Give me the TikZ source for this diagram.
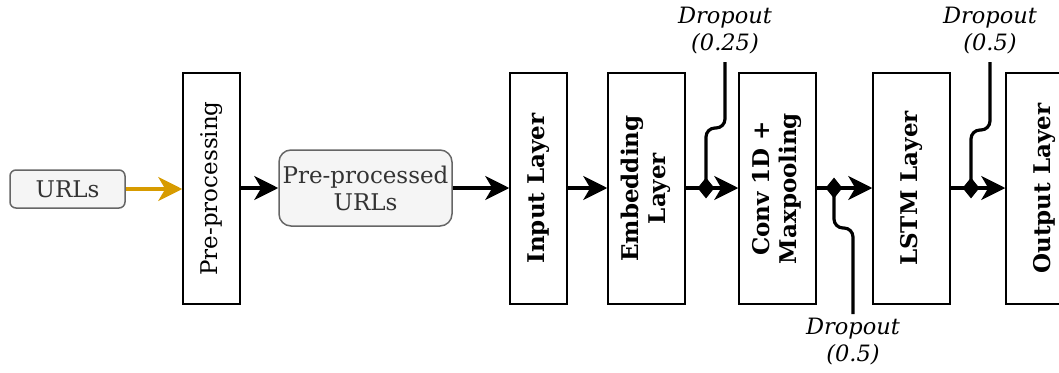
\documentclass[tikz,border=0pt]{standalone}
\usepackage{fontspec}
\setmainfont{DejaVu Serif}
\usetikzlibrary{arrows.meta,shapes.geometric}
\definecolor{boxfill}{HTML}{F5F5F5}
\definecolor{boxline}{HTML}{666666}
\definecolor{boxtext}{HTML}{333333}
\definecolor{flow}{HTML}{D79B00}
\begin{document}
\begin{tikzpicture}[x=1pt,y=-1pt,
  txt/.style={font=\fontsize{23}{27}\selectfont},
  databox/.style={draw=boxline, fill=boxfill, line width=1.5pt, text=boxtext,
    rounded corners=6pt, inner sep=0pt, align=center, txt},
  stage/.style={draw, line width=1.5pt, minimum height=231pt, inner sep=0pt,
    align=center, txt},
  layer/.style={stage, font=\bfseries\fontsize{23}{27}\selectfont},
  conn/.style={line width=3.2pt, -{Stealth[length=24pt,width=24pt,inset=7pt]}},
  drop/.style={line width=3.2pt, rounded corners=9pt},
  jn/.style={diamond, fill, inner sep=0pt, minimum width=17pt, minimum height=21pt},
  droptxt/.style={font=\itshape\fontsize{22.5}{27}\selectfont, align=center}]
\useasboundingbox (0,0) rectangle (1059,372);

% data items
\node[databox, minimum width=115pt, minimum height=38pt] (urls) at (67.5,189) {URLs};
\node[databox, minimum width=173pt, minimum height=76pt, rounded corners=12pt]
  (clean) at (365.5,188) {Pre-processed\\URLs};

% processing stages
\node[stage, minimum width=57pt] (prep) at (211.5,188.5) {\rotatebox{90}{Pre-processing}};
\node[layer, minimum width=57pt] (inp) at (538.5,188.5) {\rotatebox{90}{Input Layer}};
\node[layer, minimum width=77pt] (emb) at (646.5,188.5)
  {\rotatebox{90}{\begin{tabular}{@{}c@{}}Embedding\\Layer\end{tabular}}};
\node[layer, minimum width=77pt] (conv) at (777.5,188.5)
  {\rotatebox{90}{\begin{tabular}{@{}c@{}}Conv 1D +\\Maxpooling\end{tabular}}};
\node[layer, minimum width=77pt] (lstm) at (911.5,188.5) {\rotatebox{90}{LSTM Layer}};
\node[layer, minimum width=77pt] (out) at (1044.5,188.5) {\rotatebox{90}{Output Layer}};

% dropout junctions
\node[jn] (j1) at (706,188) {};
\node[jn] (j2) at (834,188) {};
\node[jn] (j3) at (971,188) {};

% dropout labels
\node[droptxt] (d1) at (725,31) {Dropout\\(0.25)};
\node[droptxt] (d2) at (853,342) {Dropout\\(0.5)};
\node[droptxt] (d3) at (990,31) {Dropout\\(0.5)};

% main flow
\draw[conn, color=flow] (urls.east) -- (prep.west |- urls.east);
\draw[conn] (prep.east |- clean.west) -- (clean.west);
\draw[conn] (clean.east) -- (inp.west |- clean.east);
\draw[conn] (inp.east |- j1) -- (emb.west |- j1);
\draw[conn] (emb.east |- j1) -- (conv.west |- j1);
\draw[conn] (conv.east |- j2) -- (lstm.west |- j2);
\draw[conn] (lstm.east |- j3) -- (out.west |- j3);

% dropout branches
\draw[drop] (725,62) |- (706,128) -- (j1.center);
\draw[drop] (j2.center) |- (853,228) -- (853,314);
\draw[drop] (990,62) |- (971,130) -- (j3.center);
\end{tikzpicture}
\end{document}
